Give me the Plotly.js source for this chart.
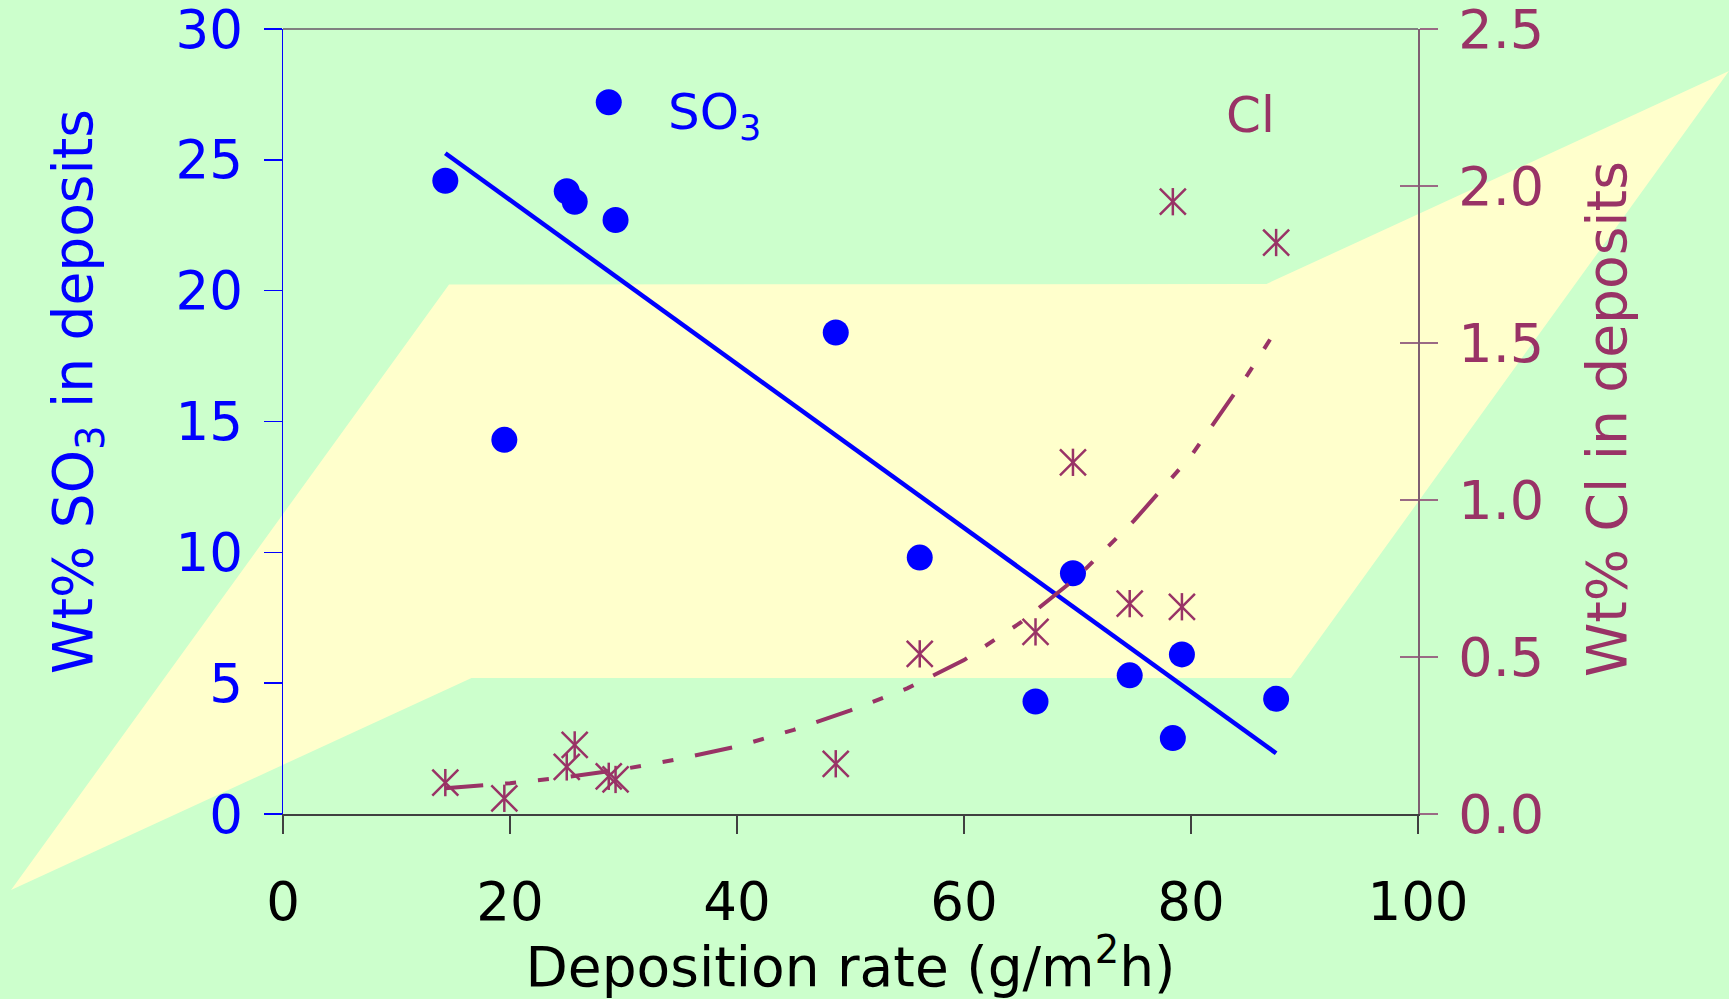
<!DOCTYPE html>
<html>
<head>
<meta charset="utf-8">
<script src="https://cdn.plot.ly/plotly-3.0.1.min.js"></script>
<style>html,body{margin:0;padding:0;background:#CCFFCC;}#chart{width:1729px;height:999px;}</style>
</head>
<body>
<div id="chart"></div>
<script>
// Deposition rate (g/m2h) for each sample
const depositionRate = [14.3, 19.5, 25.0, 25.7, 28.7, 29.3, 48.7, 56.1, 66.3, 69.6, 74.6, 78.4, 79.2, 87.5];
// Wt% SO3 in deposits
const so3Values = [24.2, 14.3, 23.8, 23.4, 27.2, 22.7, 18.4, 9.8, 4.3, 9.2, 5.3, 2.9, 6.1, 4.4];
// Wt% Cl in deposits
const clValues = [0.10, 0.05, 0.15, 0.22, 0.12, 0.11, 0.16, 0.51, 0.58, 1.12, 0.67, 1.95, 0.66, 1.82];
// Linear trend for SO3 (end points)
const so3TrendX = [14.3, 87.5];
const so3TrendY = [25.25, 2.32];
// Exponential-looking trend for Cl
const clTrendX = [14.3, 20, 25, 30, 35, 40, 45, 50, 55, 60, 65, 70, 75, 80, 85, 87.3];
const clTrendY = [0.082, 0.098, 0.118, 0.143, 0.176, 0.215, 0.268, 0.33, 0.40, 0.49, 0.61, 0.755, 0.935, 1.14, 1.40, 1.53];
// Axis ticks
const xTicks = [0, 20, 40, 60, 80, 100];
const so3Ticks = [0, 5, 10, 15, 20, 25, 30];
const clTicks = [0, 0.5, 1.0, 1.5, 2.0, 2.5];
const clTickText = ['0.0', '0.5', '1.0', '1.5', '2.0', '2.5'];
// Texts
const xTitle = 'Deposition rate (g/m<sup>2</sup>h)';
const yTitleLeft = 'Wt% SO<sub>3</sub> in deposits';
const yTitleRight = 'Wt% Cl in deposits';
const seriesLabels = ['SO<sub>3</sub>', 'Cl'];

const FONT = 'DejaVu Sans, Verdana, sans-serif';
const BLUE = '#0000FF';
const PURPLE = '#993366';

const traces = [
  {x: so3TrendX, y: so3TrendY, type: 'scatter', mode: 'lines', line: {color: BLUE, width: 4.5}, yaxis: 'y', hoverinfo: 'skip'},
  {x: clTrendX, y: clTrendY, type: 'scatter', mode: 'lines', line: {color: PURPLE, width: 4, dash: '38px,22px,11px,22px,11px,22px'}, yaxis: 'y2', hoverinfo: 'skip'},
  {x: depositionRate, y: so3Values, type: 'scatter', mode: 'markers', marker: {symbol: 'circle', size: 26, color: BLUE}, yaxis: 'y'},
  {x: depositionRate, y: clValues, type: 'scatter', mode: 'markers', marker: {symbol: 'x-thin-open', size: 26, color: PURPLE, line: {color: PURPLE, width: 2.5}}, yaxis: 'y2'},
  {x: depositionRate, y: clValues, type: 'scatter', mode: 'markers', marker: {symbol: 'line-ns-open', size: 19.5, color: PURPLE, line: {color: PURPLE, width: 2.5}}, yaxis: 'y3'}
];

const layout = {
  width: 1729, height: 999,
  margin: {l: 283, r: 311, t: 29, b: 185},
  paper_bgcolor: '#CCFFCC',
  plot_bgcolor: 'rgba(0,0,0,0)',
  showlegend: false,
  font: {family: FONT, size: 53},
  xaxis: {
    range: [0, 100], tickvals: xTicks, ticks: 'outside', ticklen: 18, tickwidth: 2, tickcolor: '#404040',
    showline: true, linecolor: '#404040', linewidth: 2, showgrid: false, zeroline: false,
    tickfont: {family: FONT, size: 53, color: '#000000'}, ticklabelstandoff: 22, ticklabeloverflow: 'allow',
    title: {text: xTitle, font: {family: FONT, size: 55, color: '#000000'}, standoff: 8}
  },
  yaxis: {
    range: [0, 30], tickvals: so3Ticks, ticks: 'outside', ticklen: 18, tickwidth: 1.5, tickcolor: BLUE,
    showline: true, linecolor: BLUE, linewidth: 1.5, showgrid: false, zeroline: false,
    tickfont: {family: FONT, size: 53, color: BLUE}, ticklabelstandoff: 10, ticklabeloverflow: 'allow'
  },
  yaxis2: {
    overlaying: 'y', side: 'right', range: [0, 2.5], tickvals: clTicks, ticktext: clTickText,
    ticks: 'outside', ticklen: 18, tickwidth: 1.5, tickcolor: '#9a6a84',
    showline: true, linecolor: '#7f5f72', linewidth: 1.5, showgrid: false, zeroline: false,
    tickfont: {family: FONT, size: 54, color: PURPLE}, ticklabelstandoff: 10, ticklabeloverflow: 'allow'
  },
  yaxis3: {
    overlaying: 'y', side: 'right', range: [0, 2.5], tickvals: clTicks,
    ticks: 'inside', ticklen: 18, tickwidth: 1.5, tickcolor: '#9a6a84',
    showticklabels: false, showline: false, showgrid: false, zeroline: false
  },
  shapes: [
    {type: 'path', xref: 'paper', yref: 'paper', layer: 'below',
     path: 'M -0.2396,-0.0968 L 0.1463,0.6745 L 0.8665,0.6752 L 1.2740,0.9465 L 0.8881,0.1732 L 0.1661,0.1732 Z',
     fillcolor: '#FFFFCC', line: {width: 0}},
    {type: 'line', xref: 'paper', yref: 'paper', x0: 0, x1: 1, y0: 1, y1: 1, layer: 'below',
     line: {color: '#808080', width: 2}}
  ],
  annotations: [
    {text: yTitleLeft, xref: 'paper', yref: 'paper', x: -0.1815, y: 0.5389, xanchor: 'center', yanchor: 'middle',
     textangle: -90, showarrow: false, font: {family: FONT, size: 55, color: BLUE}},
    {text: yTitleRight, xref: 'paper', yref: 'paper', x: 1.1665, y: 0.503, xanchor: 'center', yanchor: 'middle',
     textangle: -90, showarrow: false, font: {family: FONT, size: 55, color: PURPLE}},
    {text: seriesLabels[0], xref: 'x', yref: 'y', x: 33.7, y: 26.7, xanchor: 'left', yanchor: 'middle', showarrow: false,
     font: {family: FONT, size: 50, color: BLUE}},
    {text: seriesLabels[1], xref: 'x', yref: 'y', x: 82.9, y: 26.7, xanchor: 'left', yanchor: 'middle', showarrow: false,
     font: {family: FONT, size: 50, color: PURPLE}}
  ]
};

Plotly.newPlot('chart', traces, layout, {displayModeBar: false, staticPlot: true});
</script>
</body>
</html>
